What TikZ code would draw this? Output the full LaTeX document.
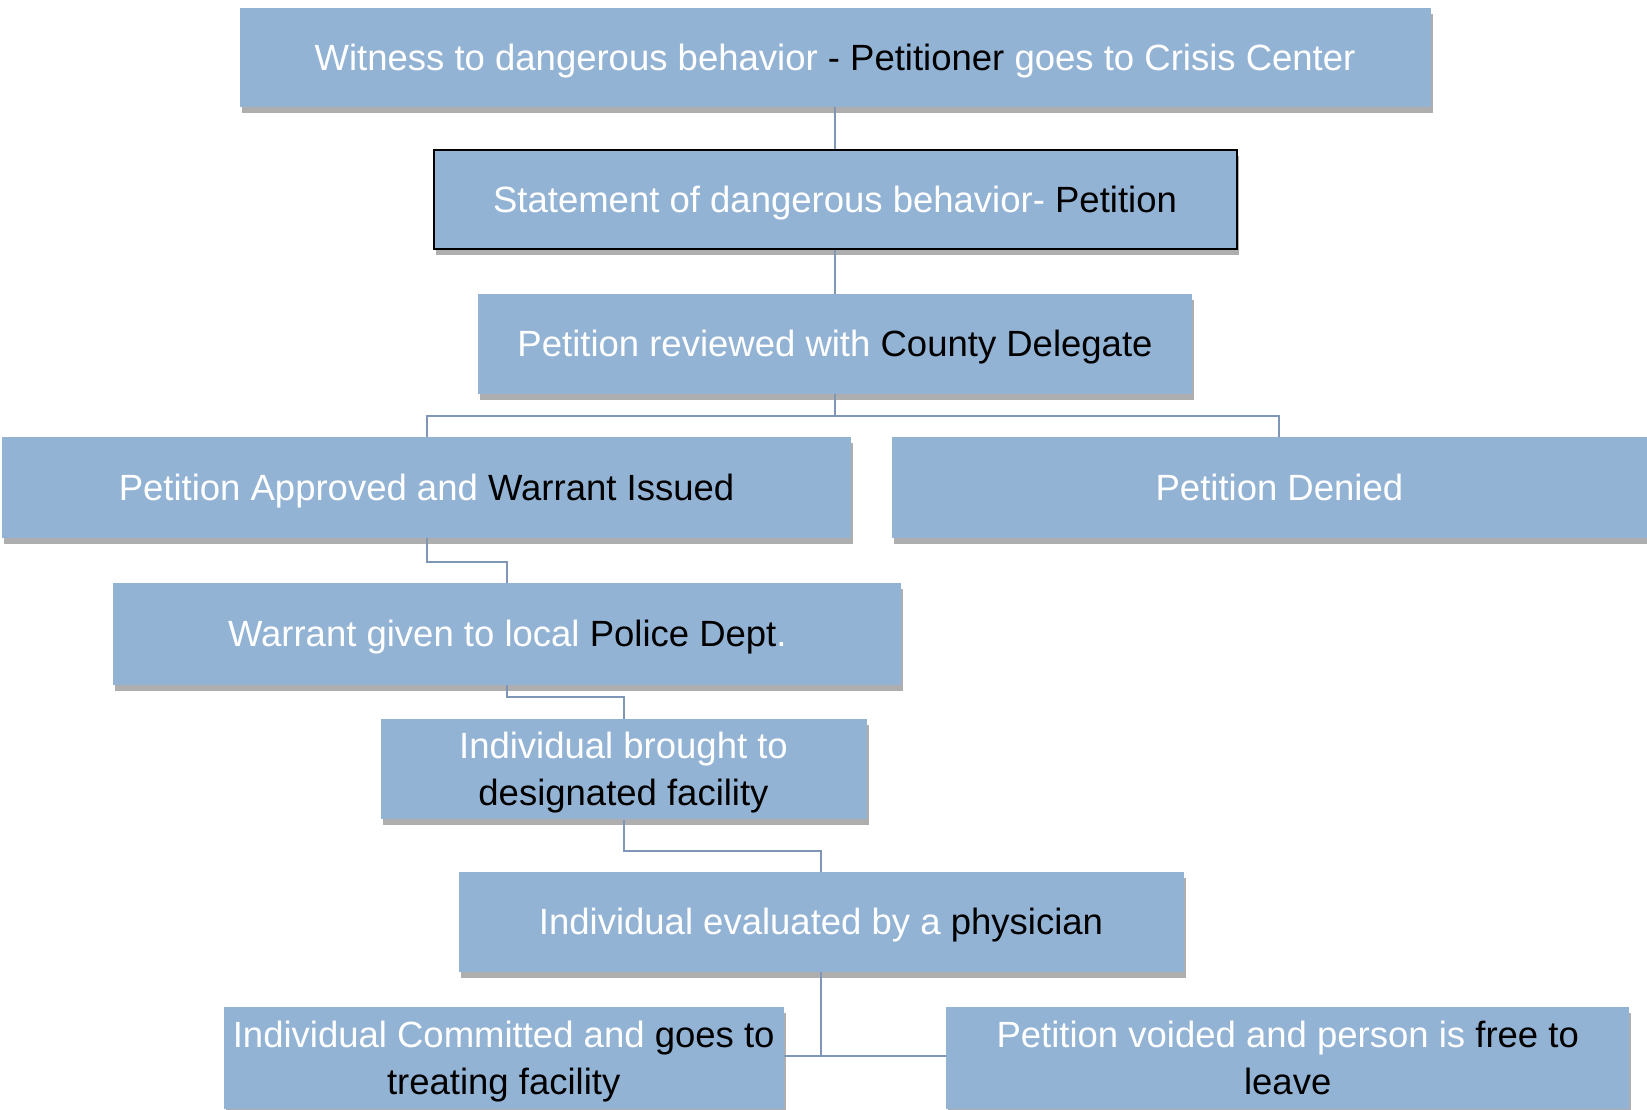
\documentclass[tikz,border=0pt]{standalone}
\usepackage{fontspec}
\setmainfont{Liberation Sans}
\usetikzlibrary{shadows}
\definecolor{boxfill}{RGB}{147,179,213}
\definecolor{linkc}{RGB}{128,150,182}
\newcommand{\wt}[1]{\textcolor{white}{#1}}
\newcommand{\ls}{\rule[-11pt]{0pt}{47pt}}
\begin{document}
\begin{tikzpicture}[x=1pt,y=-1pt,
  flowbox/.style={rectangle, fill=boxfill, draw=none, inner sep=0pt, align=center,
    font=\fontsize{36.5}{47}\selectfont,
    drop shadow={shadow xshift=2pt, shadow yshift=-6pt, fill=black!45, opacity=0.7}},
  link/.style={draw=linkc, line width=2pt}]
\useasboundingbox (0,0) rectangle (1647,1109);
\node[flowbox, minimum width=1191pt, minimum height=99pt] (b1) at (835,57.7)
  {\ls\wt{Witness to dangerous behavior} - Petitioner \wt{goes to Crisis Center}};
\node[flowbox, draw=black, line width=2pt, minimum width=803pt, minimum height=99pt] (b2) at (835,199.6)
  {\ls\wt{Statement of dangerous behavior-} Petition};
\node[flowbox, minimum width=714pt, minimum height=100pt] (b3) at (835,344)
  {\ls\wt{Petition reviewed with} County Delegate};
\node[flowbox, minimum width=849pt, minimum height=101pt] (b4) at (426.5,487.5)
  {\ls\wt{Petition Approved and} Warrant Issued};
\node[flowbox, minimum width=775pt, minimum height=101pt] (b5) at (1279.4,487.5)
  {\ls\wt{Petition Denied}};
\node[flowbox, minimum width=788pt, minimum height=102pt] (b6) at (507.3,634)
  {\ls\wt{Warrant given to local} Police Dept\wt{.}};
\node[flowbox, minimum width=486pt, minimum height=100pt] (b7) at (623.5,769.4)
  {\ls\wt{Individual brought to}\\\ls designated facility};
\node[flowbox, minimum width=725pt, minimum height=100pt] (b8) at (821,921.8)
  {\ls\wt{Individual evaluated by a} physician};
\node[flowbox, minimum width=560pt, minimum height=102pt] (b9) at (503.7,1058)
  {\ls\wt{Individual Committed and} goes to\\\ls treating facility};
\node[flowbox, minimum width=683pt, minimum height=102pt] (b10) at (1287.7,1058)
  {\ls\wt{Petition voided and person is} free to\\\ls leave};
% connectors
\coordinate (j3) at (835,416);
\coordinate (j4) at (426.5,562);
\coordinate (j6) at (507.3,697);
\coordinate (j7) at (623.5,851);
\coordinate (j8) at (821,1056);
\draw[link] (b1.south) -- (b2.north);
\draw[link] (b2.south) -- (b3.north);
\draw[link] (b3.south) -- (j3);
\draw[link] (j3) -| (b4.north);
\draw[link] (j3) -| (b5.north);
\draw[link] (b4.south) -- (j4) -| (b6.north);
\draw[link] (b6.south) -- (j6) -| (b7.north);
\draw[link] (b7.south) -- (j7) -| (b8.north);
\draw[link] (b8.south) -- (j8);
\draw[link] (b9.east |- j8) -- (b10.west |- j8);
\end{tikzpicture}
\end{document}
